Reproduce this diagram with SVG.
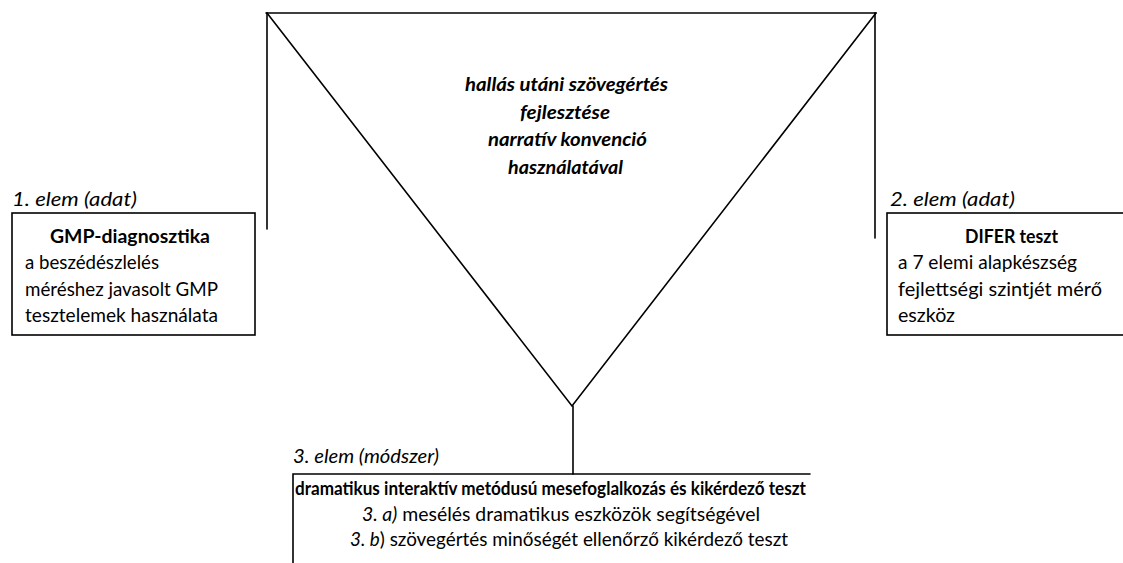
<svg xmlns="http://www.w3.org/2000/svg" width="1123" height="563" viewBox="0 0 1123 563">
<style>
.ln{stroke:#000;stroke-width:1.6;fill:none;stroke-linecap:round}
.bx{stroke:#000;stroke-width:1.6;fill:#fff}
text{font-family:Lato,"Liberation Sans",sans-serif;font-size:19px;fill:#000}
.i{font-style:italic}
.b{font-weight:bold}
.bi{font-weight:bold;font-style:italic}
</style>
<rect width="1123" height="563" fill="#fff"/>
<g id="connectors">
<path class="ln" d="M266,13 L876,13"/>
<path class="ln" d="M267,13 L267,229"/>
<path class="ln" d="M875,13 L875,238"/>
<path class="ln" d="M267,13 L572,406 L876,13"/>
<path class="ln" d="M573,406 L573,474"/>
</g>
<g id="center">
<text class="bi" x="465" y="91" textLength="203" lengthAdjust="spacingAndGlyphs">hallás utáni szövegértés</text>
<text class="bi" x="520" y="119" textLength="90" lengthAdjust="spacingAndGlyphs">fejlesztése</text>
<text class="bi" x="488" y="146" textLength="159" lengthAdjust="spacingAndGlyphs">narratív konvenció</text>
<text class="bi" x="508" y="174" textLength="115" lengthAdjust="spacingAndGlyphs">használatával</text>
</g>
<g id="elem1">
<text class="i" x="12" y="206" textLength="125" lengthAdjust="spacingAndGlyphs">1. elem (adat)</text>
<rect class="bx" x="12" y="213" width="243" height="122"/>
<text class="b" x="50" y="243" textLength="160" lengthAdjust="spacingAndGlyphs">GMP-diagnosztika</text>
<text x="25" y="269" textLength="134" lengthAdjust="spacingAndGlyphs">a beszédészlelés</text>
<text x="25" y="296" textLength="193" lengthAdjust="spacingAndGlyphs">méréshez javasolt GMP</text>
<text x="25" y="322" textLength="193" lengthAdjust="spacingAndGlyphs">tesztelemek használata</text>
</g>
<g id="elem2">
<text class="i" x="890" y="206" textLength="125" lengthAdjust="spacingAndGlyphs">2. elem (adat)</text>
<rect class="bx" x="887" y="213" width="250" height="122"/>
<text class="b" x="965" y="243" textLength="93" lengthAdjust="spacingAndGlyphs">DIFER teszt</text>
<text x="898" y="269" textLength="179" lengthAdjust="spacingAndGlyphs">a 7 elemi alapkészség</text>
<text x="898" y="296" textLength="204" lengthAdjust="spacingAndGlyphs">fejlettségi szintjét mérő</text>
<text x="898" y="322" textLength="57" lengthAdjust="spacingAndGlyphs">eszköz</text>
</g>
<g id="elem3">
<text class="i" x="293" y="463" textLength="146" lengthAdjust="spacingAndGlyphs">3. elem (módszer)</text>
<path class="ln" d="M293,580 L293,474 L810,474"/>
<text class="b" x="295" y="495" textLength="511" lengthAdjust="spacingAndGlyphs">dramatikus interaktív metódusú mesefoglalkozás és kikérdező teszt</text>
<text x="362" y="521" textLength="398" lengthAdjust="spacingAndGlyphs"><tspan class="i">3. a)</tspan> mesélés dramatikus eszközök segítségével</text>
<text x="350" y="546" textLength="438" lengthAdjust="spacingAndGlyphs"><tspan class="i">3. b</tspan>) szövegértés minőségét ellenőrző kikérdező teszt</text>
</g>
</svg>
